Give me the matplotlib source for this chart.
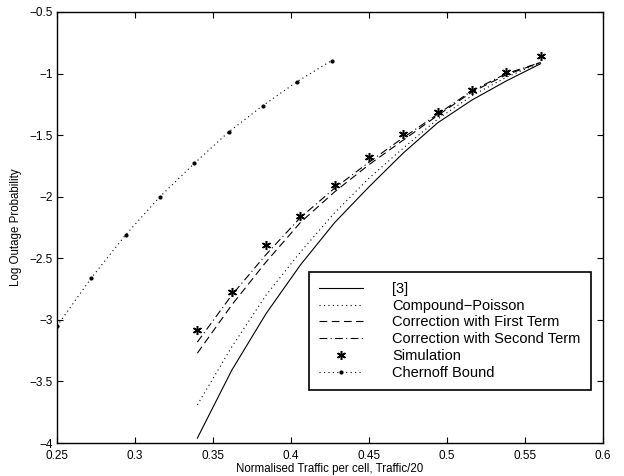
import numpy as np
import matplotlib
matplotlib.use('Agg')
import matplotlib.pyplot as plt

# traffic values (normalised, Traffic/20)
traffic = [0.34, 0.362, 0.384, 0.406, 0.428, 0.45, 0.472, 0.494, 0.516, 0.538, 0.56]
ref3 = [-3.96, -3.41, -2.95, -2.555, -2.21, -1.92, -1.645, -1.40, -1.215, -1.06, -0.92]
compound_poisson = [-3.69, -3.22, -2.80, -2.45, -2.13, -1.85, -1.605, -1.37, -1.18, -1.03, -0.91]
first_term = [-3.27, -2.88, -2.53, -2.21, -1.96, -1.74, -1.54, -1.34, -1.15, -1.01, -0.91]
second_term = [-3.18, -2.80, -2.47, -2.17, -1.93, -1.72, -1.52, -1.33, -1.14, -1.00, -0.91]
simulation = [-3.08, -2.77, -2.39, -2.16, -1.905, -1.68, -1.49, -1.31, -1.135, -0.99, -0.86]

chernoff_x = [0.25, 0.272, 0.294, 0.316, 0.338, 0.36, 0.382, 0.404, 0.426]
chernoff_y = [-3.05, -2.66, -2.31, -2.00, -1.73, -1.475, -1.26, -1.065, -0.895]

xticks = [0.25, 0.3, 0.35, 0.4, 0.45, 0.5, 0.55, 0.6]
xtick_labels = ["0.25", "0.3", "0.35", "0.4", "0.45", "0.5", "0.55", "0.6"]
yticks = [-4, -3.5, -3, -2.5, -2, -1.5, -1, -0.5]
ytick_labels = ["\u22124", "\u22123.5", "\u22123", "\u22122.5", "\u22122", "\u22121.5", "\u22121", "\u22120.5"]

plt.rcParams['font.family'] = ['Liberation Sans', 'DejaVu Sans']

fig = plt.figure(figsize=(6.24, 4.76), dpi=100)
ax = fig.add_axes([0.0913, 0.0693, 0.875, 0.9055])

lw = 0.8
ax.plot(traffic, ref3, color='k', linestyle='-', linewidth=lw, label='[3]')
ax.plot(traffic, compound_poisson, color='k', linestyle=(0, (1, 3)), linewidth=lw,
        label='Compound\u2212Poisson')
ax.plot(traffic, first_term, color='k', linestyle=(0, (7, 4)), linewidth=lw,
        label='Correction with First Term')
ax.plot(traffic, second_term, color='k', linestyle=(0, (7, 3, 1, 3)), linewidth=lw,
        label='Correction with Second Term')
ax.plot(traffic, simulation, color='k', linestyle='none', marker=(6, 2, 0),
        markersize=6.5, markeredgewidth=1.1, label='Simulation')
ax.plot(chernoff_x, chernoff_y, color='k', linestyle=(0, (1, 3)), linewidth=lw,
        marker='.', markersize=4, label='Chernoff Bound')

ax.set_xlim(0.25, 0.6)
ax.set_ylim(-4, -0.5)
ax.set_xticks(xticks)
ax.set_xticklabels(xtick_labels)
ax.set_yticks(yticks)
ax.set_yticklabels(ytick_labels)
ax.tick_params(direction='in', length=4, width=0.8, top=True, right=True, labelsize=8.5)
ax.tick_params(axis='x', pad=5)
ax.tick_params(axis='y', pad=3)
for s in ax.spines.values():
    s.set_linewidth(1.0)

ax.set_xlabel("Normalised Traffic per cell, Traffic/20", fontsize=8.3, labelpad=1)
ax.set_ylabel("Log Outage Probability", fontsize=8.3, labelpad=5)

leg = ax.legend(loc='lower right', bbox_to_anchor=(0.978, 0.123), borderaxespad=0,
                fontsize=10.5, handlelength=3, handletextpad=2.0, numpoints=1,
                labelspacing=0.19, fancybox=False, framealpha=1, edgecolor='k',
                borderpad=0.7)
leg.get_frame().set_linewidth(1.2)

plt.savefig("out.png", dpi=100)
plt.close()
